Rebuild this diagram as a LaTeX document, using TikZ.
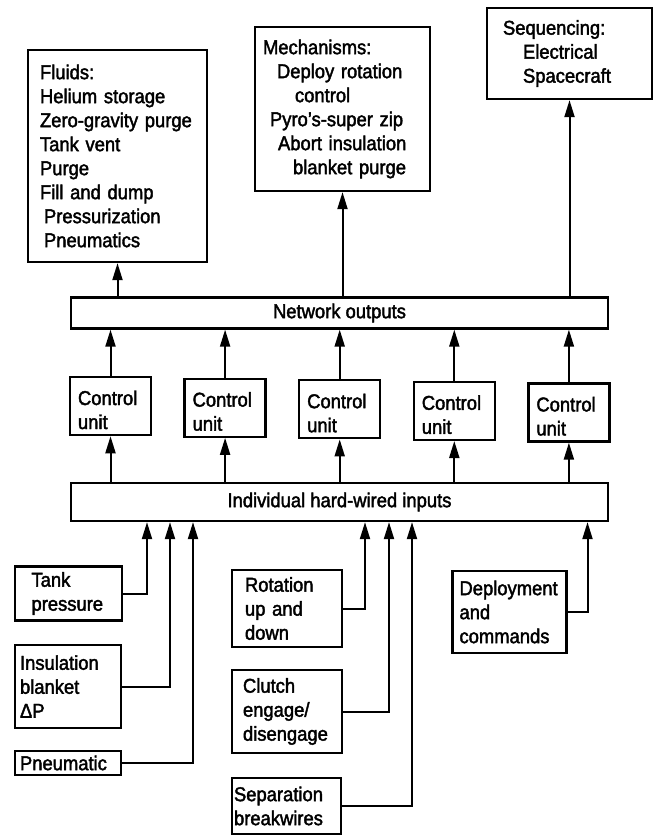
\documentclass[tikz,border=0pt]{standalone}
\usepackage{fontspec}
\setmainfont{Liberation Sans}[FakeStretch=0.92,FakeBold=2]
\usetikzlibrary{arrows.meta}

\tikzset{
  blk/.style={draw, line width=2.3pt, align=left, inner xsep=0pt, inner ysep=2pt,
    font=\fontsize{20}{24}\selectfont},
  bar/.style={blk, align=center, minimum width=537pt},
  unit/.style={blk, minimum width=81pt, minimum height=58pt, text width=65pt},
  arr/.style={line width=2pt, -{Triangle[length=17pt,width=10pt]}}
}

\begin{document}
\begin{tikzpicture}[x=1pt,y=-1pt]
  \useasboundingbox (0,0) rectangle (656,836);
  % output groups
  \node[blk, minimum width=179pt, minimum height=212pt, text width=155pt] (fluids) at (117.5,156)
    {Fluids:\\Helium storage\\Zero-gravity purge\\Tank vent\\Purge\\Fill and dump\\\hspace*{4pt}Pressurization\\\hspace*{4pt}Pneumatics};
  \node[blk, minimum width=175pt, minimum height=164pt, text width=159pt] (mech) at (342.5,109)
    {Mechanisms:\\\hspace*{14pt}Deploy rotation\\\hspace*{32pt}control\\\hspace*{7pt}Pyro's-super zip\\\hspace*{15pt}Abort insulation\\\hspace*{30pt}blanket purge};
  \node[blk, minimum width=165pt, minimum height=91pt, text width=133pt] (seq) at (569.5,53.5)
    {Sequencing:\\\hspace*{20pt}Electrical\\\hspace*{20pt}Spacecraft};

  \node[bar, minimum height=31pt] (net) at (339.5,313) {Network outputs};
  \node[bar, minimum height=38pt] (inp) at (339.5,502) {Individual hard-wired inputs};

  \draw[arr] (net.north -| fluids) -- (fluids);
  \draw[arr] (net.north -| mech) -- (mech);
  \draw[arr] (net.north -| seq) -- (seq);

  % control units
  \foreach \i in {1,...,5} {
    \node[unit] (cu\i) at ({110.5+114.6*(\i-1)},{404.5+1.6*\i}) {\rule{0pt}{22pt}Control\\unit};
    \draw[arr] (inp.north -| cu\i) -- (cu\i);
    \draw[arr] (cu\i) -- (net.south -| cu\i);
  }

  % input sources
  \node[blk, minimum width=107pt, minimum height=54pt, text width=74pt] (tank) at (68.5,593.5) {Tank\\pressure};
  \node[blk, minimum width=106pt, minimum height=83pt, text width=96pt] (ins) at (68,686.5) {Insulation\\blanket\\ΔP};
  \node[blk, minimum width=106pt, minimum height=24pt, text width=96pt, inner ysep=0pt] (pneu) at (68,763) {Pneumatic};
  \node[blk, minimum width=110pt, minimum height=77pt, text width=84pt] (rot) at (287,608.5) {Rotation\\up and\\down};
  \node[blk, minimum width=110pt, minimum height=83pt, text width=88pt] (clutch) at (287,711.5) {Clutch\\engage/\\disengage};
  \node[blk, minimum width=109pt, minimum height=56pt, text width=105pt] (sep) at (286.5,806) {Separation\\breakwires};
  \node[blk, minimum width=114pt, minimum height=82pt, text width=100pt] (dep) at (509.5,612) {Deployment\\and\\commands};

  \draw[arr] (tank.east) -| ([xshift=-192.5pt]inp.south);
  \draw[arr] (ins.east) -| ([xshift=-169.5pt]inp.south);
  \draw[arr] (pneu.east) -| ([xshift=-146.5pt]inp.south);
  \draw[arr] (rot.east) -| ([xshift=25.5pt]inp.south);
  \draw[arr] (clutch.east) -| ([xshift=49.5pt]inp.south);
  \draw[arr] (sep.east) -| ([xshift=72.5pt]inp.south);
  \draw[arr] (dep.east) -| ([xshift=248pt]inp.south);
\end{tikzpicture}
\end{document}
